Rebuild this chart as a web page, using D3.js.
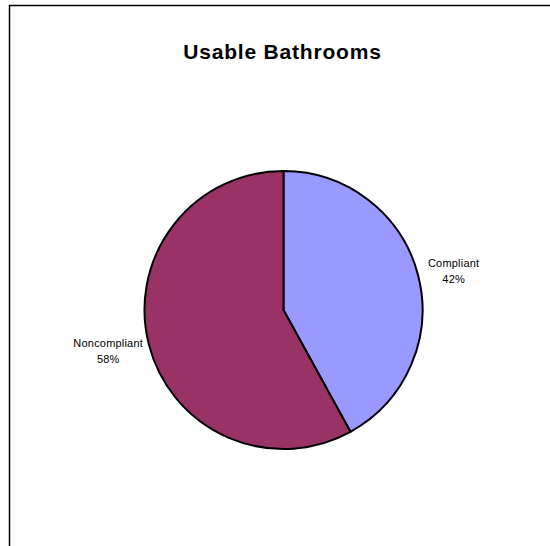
<!DOCTYPE html>
<html><head><meta charset="utf-8">
<script src="https://cdn.jsdelivr.net/npm/d3@7"></script>
<style>body{margin:0;background:#fff}svg{display:block}</style>
</head><body>
<script>
const categories = ["Compliant", "Noncompliant"];
const values = [42, 58];
const colors = ["#9999FF", "#993366"];
const title = "Usable Bathrooms";

const W = 550, H = 546;
const svg = d3.select("body").append("svg").attr("width", W).attr("height", H);
svg.append("rect").attr("width", W).attr("height", H).attr("fill", "#fff");
// frame (top and left edges visible)
svg.append("line").attr("x1", 9).attr("x2", W).attr("y1", 5.5).attr("y2", 5.5).attr("stroke", "#000").attr("stroke-width", 1.5);
svg.append("line").attr("x1", 9.5).attr("x2", 9.5).attr("y1", 5).attr("y2", H).attr("stroke", "#000").attr("stroke-width", 1.5);

svg.append("text").attr("x", 282.5).attr("y", 59).attr("text-anchor", "middle")
  .attr("font-family", "Liberation Sans, Arial, sans-serif").attr("font-weight", "bold")
  .attr("font-size", 21).attr("letter-spacing", 0.8).text(title);

const cx = 283.5, cy = 310, r = 139;
const data = categories.map((c, i) => ({cat: c, value: values[i], color: colors[i]}));
const pie = d3.pie().value(d => d.value).sort(null);
const arc = d3.arc().innerRadius(0).outerRadius(r);
const g = svg.append("g").attr("transform", `translate(${cx},${cy})`);
const arcs = pie(data);
g.selectAll("path").data(arcs).join("path")
  .attr("d", arc).attr("fill", d => d.data.color)
  .attr("stroke", "#000").attr("stroke-width", 2).attr("stroke-linejoin", "round");

const labelArc = d3.arc().innerRadius(160).outerRadius(160);
const lbl = g.selectAll("text.lbl").data(arcs).join("text").attr("class", "lbl")
  .attr("font-family", "Liberation Sans, Arial, sans-serif").attr("font-size", 11)
  .attr("letter-spacing", 0.2).attr("text-anchor", "middle").attr("fill", "#000");
lbl.each(function(d) {
  const [x, y] = labelArc.centroid(d);
  const t = d3.select(this);
  const pct = Math.round(d.data.value / d3.sum(values) * 100) + "%";
  const s1 = t.append("tspan").attr("x", x).attr("y", y - 3).text(d.data.cat);
  const w = s1.node().getComputedTextLength();
  const side = x >= 0 ? 1 : -1;
  const xc = x + 2 + side * (w / 2 - 12.5);
  s1.attr("x", xc);
  t.append("tspan").attr("x", xc).attr("y", y + 13).text(pct);
});
</script>
</body></html>
